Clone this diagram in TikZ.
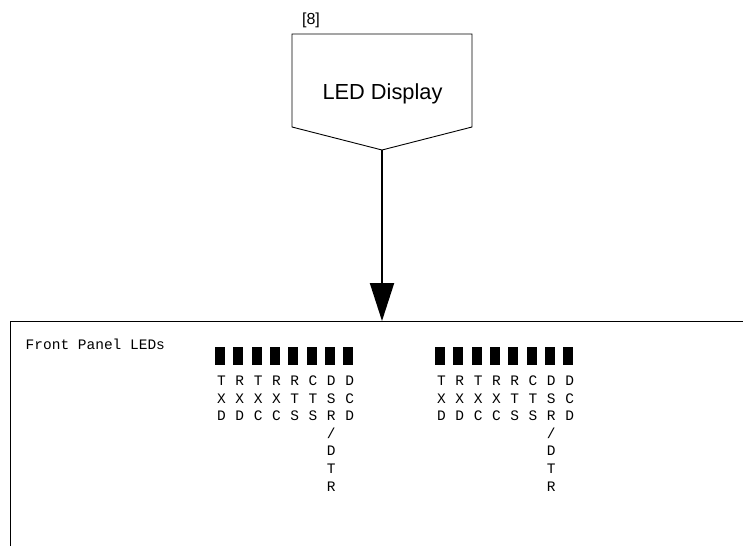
\documentclass[tikz,border=0pt]{standalone}
\usepackage{fontspec}
\setmainfont{Liberation Sans}
\newfontfamily\panelfont{Liberation Mono}
\usetikzlibrary{arrows.meta, calc}

\begin{document}
\begin{tikzpicture}[x=1pt, y=-1pt,
        outline/.style={draw, line width=0.9pt, line join=miter},
        flow/.style={-{Triangle[width=24pt, length=38pt]}, line width=2pt},
        led/.style={fill=black, draw=none, minimum width=10pt, minimum height=18pt, inner sep=0pt},
        sig/.style={font=\panelfont\fontsize{14.5}{17}\selectfont, inner sep=0pt, anchor=base}
    ]
    \useasboundingbox (0,0) rectangle (743,546);

    % Display block - pentagon pointing down
    \coordinate (dispnw) at (292,34);
    \coordinate (dispne) at (472,34);
    \coordinate (dispse) at (472,127);
    \coordinate (dispsw) at (292,127);
    \coordinate (disptip) at (382,150);
    \draw[outline] (dispnw) -- (dispne) -- (dispse) -- (disptip) -- (dispsw) -- cycle;
    \node[font=\fontsize{21.8}{26}\selectfont, inner sep=0pt, anchor=base] (display) at (382.5,99) {LED Display};
    \node[font=\fontsize{16}{19}\selectfont, inner sep=0pt, anchor=base] (ref) at (311,24) {[8]};

    % Front panel (runs off the page)
    \coordinate (panelsw) at (10,546);
    \coordinate (panelne) at (743,321);
    \coordinate (paneltop) at (382,321);
    \draw[outline] (panelsw) |- (panelne);
    \node[font=\panelfont\fontsize{14.5}{17}\selectfont, inner sep=0pt, anchor=base west] (title) at (25.5,349.5) {Front Panel LEDs};

    % Arrow
    \draw[flow] (disptip) -- (paneltop);

    % LED groups
    \foreach \g/\x in {A/220, B/440} {
        \foreach \sigs [count=\i] in {{T,X,D},{R,X,D},{T,X,C},{R,X,C},{R,T,S},{C,T,S},{D,S,R,/,D,T,R},{D,C,D}} {
            \node[led] (led\g\i) at ({\x+18.3*(\i-1)},356) {};
            \foreach \ch [count=\j] in \sigs {
                \node[sig] (sig\g\i-\j) at ({\x+1.5+18.3*(\i-1)},{385.5+17.6*(\j-1)}) {\ch};
            }
        }
    }

\end{tikzpicture}
\end{document}
